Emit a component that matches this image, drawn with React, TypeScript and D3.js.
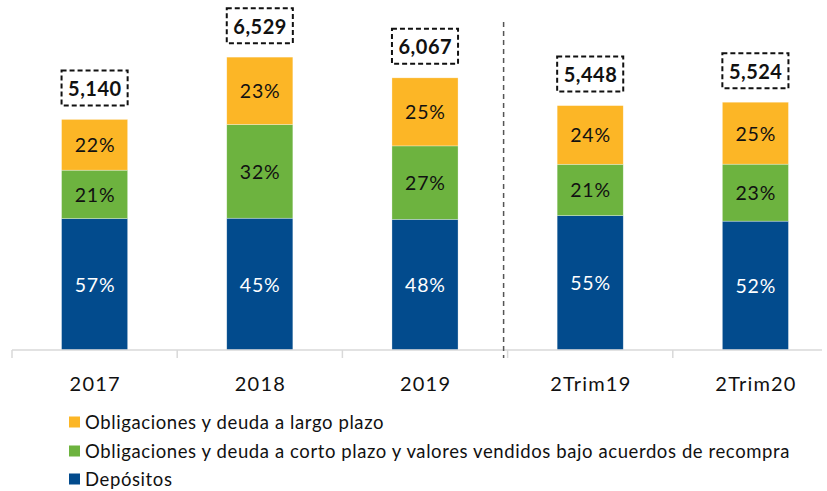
import React from 'react';
import * as d3 from 'd3';

const categories = ['2017', '2018', '2019', '2Trim19', '2Trim20'];
const totals = [5140, 6529, 6067, 5448, 5524];
const depositos = [57, 45, 48, 55, 52];
const cortoPlazo = [21, 32, 27, 21, 23];
const largoPlazo = [22, 23, 25, 24, 25];

const seriesNames = [
  'Obligaciones y deuda a largo plazo',
  'Obligaciones y deuda a corto plazo y valores vendidos bajo acuerdos de recompra',
  'Depósitos',
];
const colors = { dep: '#024B8D', corto: '#6DB33F', largo: '#FCB626' };
const FONT = 'Lato, "Open Sans", sans-serif';

export default function App() {
  const W = 827, H = 491;
  const baseY = 350;
  const x = d3.scaleBand<string>().domain(categories).range([12, 838]).paddingInner(0.6).paddingOuter(0.3);
  const y = d3.scaleLinear().domain([0, 7000]).range([baseY, 36]);
  const step = x.step();
  const bw = x.bandwidth();

  const rows = categories.map((c, i) => {
    const t = totals[i];
    const segs = [
      { key: 'dep', pct: depositos[i], color: colors.dep, text: '#fff' },
      { key: 'corto', pct: cortoPlazo[i], color: colors.corto, text: '#111' },
      { key: 'largo', pct: largoPlazo[i], color: colors.largo, text: '#111' },
    ];
    let acc = 0;
    return {
      c, t,
      segs: segs.map(s => {
        const v0 = acc;
        acc += (s.pct / 100) * t;
        return { ...s, y0: y(v0), y1: y(acc) };
      }),
    };
  });

  const boundaries = d3.range(0, categories.length).map(i => 12 + i * step);
  const sepX = 12 + 3 * step - 4;

  const legendColors = [colors.largo, colors.corto, colors.dep];
  const legendY = [422, 451, 479];

  return (
    <svg width={W} height={H} style={{ position: 'absolute', left: 0, top: 0, background: '#fff' }} fontFamily={FONT}>
      {rows.map((r, i) => {
        const x0 = x(r.c)!;
        const cx = x0 + bw / 2;
        const top = y(r.t);
        return (
          <g key={r.c}>
            {r.segs.map(s => (
              <g key={s.key}>
                <rect x={x0} y={s.y1} width={bw} height={s.y0 - s.y1} fill={s.color} stroke="#ffffff" strokeOpacity={0.5} strokeWidth={0.6} />
                <text x={cx + 0.4} y={(s.y0 + s.y1) / 2} textAnchor="middle" dominantBaseline="central" fontSize={19.5} letterSpacing={0.8} fill={s.text}>
                  {s.pct}%
                </text>
              </g>
            ))}
            <rect x={x0} y={top - 49} width={bw} height={35} fill="#fff" stroke="#111" strokeWidth={2} strokeDasharray="5,3" />
            <text x={cx + 0.3} y={top - 31.5} textAnchor="middle" dominantBaseline="central" fontSize={20} fontWeight="bold" letterSpacing={0.5} fill="#111">
              {d3.format(',')(r.t)}
            </text>
            <text x={cx + 0.6} y={383} textAnchor="middle" dominantBaseline="central" fontSize={20} letterSpacing={1.2} fill="#111">
              {r.c}
            </text>
          </g>
        );
      })}
      <line x1={12} x2={822} y1={baseY} y2={baseY} stroke="#D9D9D9" strokeWidth={1.5} />
      {boundaries.map((bx, i) => (
        <line key={i} x1={bx} x2={bx} y1={baseY} y2={358} stroke="#D9D9D9" strokeWidth={1.5} />
      ))}
      <line x1={sepX} x2={sepX} y1={22} y2={358} stroke="#555" strokeWidth={1.5} strokeDasharray="5,4" />
      {seriesNames.map((n, i) => (
        <g key={n}>
          <rect x={69} y={legendY[i] - 5.5} width={11} height={11} fill={legendColors[i]} />
          <text x={85} y={legendY[i]} dominantBaseline="central" fontSize={18.5} letterSpacing={0.6} fill="#111">
            {n}
          </text>
        </g>
      ))}
    </svg>
  );
}
